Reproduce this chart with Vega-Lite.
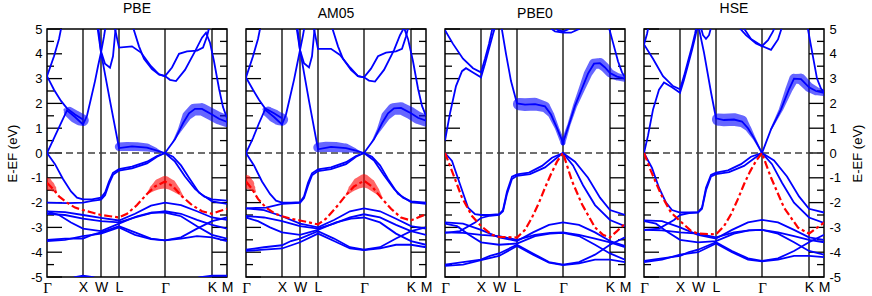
{
"$schema":"https://vega.github.io/schema/vega-lite/v6.json",
"padding":{"left":5,"right":5,"top":1,"bottom":0},
"config":{"font":"Liberation Sans","view":{"stroke":"black","strokeWidth":1.5},"title":{"fontSize":14,"fontWeight":"normal","color":"black","offset":7,"baseline":"alphabetic"}},
"datasets":{
"kp":[{"k":36},{"k":54},{"k":72},{"k":118},{"k":165}],
"zero":[{"e":0}],
"tmaj":[{"e":-5},{"e":-4},{"e":-3},{"e":-2},{"e":-1},{"e":0},{"e":1},{"e":2},{"e":3},{"e":4},{"e":5}],
"tmin":[{"e":-4.5},{"e":-3.5},{"e":-2.5},{"e":-1.5},{"e":-0.5},{"e":0.5},{"e":1.5},{"e":2.5},{"e":3.5},{"e":4.5}],
"fat":[
{"p":"PBE","f":"f1","t":"p","k":18,"e":1.74,"w":0.15},{"p":"PBE","f":"f1","t":"p","k":22,"e":1.65,"w":0.5},{"p":"PBE","f":"f1","t":"p","k":28,"e":1.47,"w":0.6},{"p":"PBE","f":"f1","t":"p","k":33,"e":1.36,"w":0.6},{"p":"PBE","f":"f1","t":"p","k":36,"e":1.32,"w":0.55},
{"p":"PBE","f":"f2","t":"p","k":72,"e":0.25,"w":0.4},{"p":"PBE","f":"f2","t":"p","k":80,"e":0.27,"w":0.42},{"p":"PBE","f":"f2","t":"p","k":90,"e":0.26,"w":0.42},{"p":"PBE","f":"f2","t":"p","k":100,"e":0.22,"w":0.38},{"p":"PBE","f":"f2","t":"p","k":108,"e":0.12,"w":0.25},{"p":"PBE","f":"f2","t":"p","k":114,"e":0.04,"w":0.08},
{"p":"PBE","f":"f3","t":"p","k":126,"e":0.45,"w":0.05},{"p":"PBE","f":"f3","t":"p","k":133,"e":0.95,"w":0.2},{"p":"PBE","f":"f3","t":"p","k":140,"e":1.5,"w":0.45},{"p":"PBE","f":"f3","t":"p","k":147,"e":1.75,"w":0.55},{"p":"PBE","f":"f3","t":"p","k":155,"e":1.76,"w":0.58},{"p":"PBE","f":"f3","t":"p","k":165,"e":1.55,"w":0.58},{"p":"PBE","f":"f3","t":"p","k":172,"e":1.4,"w":0.58},{"p":"PBE","f":"f3","t":"p","k":180,"e":1.28,"w":0.55},
{"p":"PBE","f":"f4","t":"s","k":0,"e":-1.25,"w":0.6},{"p":"PBE","f":"f4","t":"s","k":3,"e":-1.32,"w":0.45},{"p":"PBE","f":"f4","t":"s","k":6,"e":-1.42,"w":0.3},{"p":"PBE","f":"f4","t":"s","k":9,"e":-1.55,"w":0.1},
{"p":"PBE","f":"f5","t":"s","k":100,"e":-1.65,"w":0.05},{"p":"PBE","f":"f5","t":"s","k":106,"e":-1.42,"w":0.3},{"p":"PBE","f":"f5","t":"s","k":112,"e":-1.25,"w":0.5},{"p":"PBE","f":"f5","t":"s","k":118,"e":-1.18,"w":0.6},{"p":"PBE","f":"f5","t":"s","k":124,"e":-1.28,"w":0.5},{"p":"PBE","f":"f5","t":"s","k":130,"e":-1.5,"w":0.3},{"p":"PBE","f":"f5","t":"s","k":136,"e":-1.75,"w":0.05},
{"p":"AM05","f":"f1","t":"p","k":18,"e":1.76,"w":0.15},{"p":"AM05","f":"f1","t":"p","k":22,"e":1.66,"w":0.5},{"p":"AM05","f":"f1","t":"p","k":28,"e":1.5,"w":0.62},{"p":"AM05","f":"f1","t":"p","k":33,"e":1.38,"w":0.62},{"p":"AM05","f":"f1","t":"p","k":36,"e":1.35,"w":0.58},
{"p":"AM05","f":"f2","t":"p","k":72,"e":0.22,"w":0.45},{"p":"AM05","f":"f2","t":"p","k":80,"e":0.25,"w":0.48},{"p":"AM05","f":"f2","t":"p","k":90,"e":0.24,"w":0.48},{"p":"AM05","f":"f2","t":"p","k":100,"e":0.2,"w":0.42},{"p":"AM05","f":"f2","t":"p","k":108,"e":0.11,"w":0.25},{"p":"AM05","f":"f2","t":"p","k":114,"e":0.04,"w":0.08},
{"p":"AM05","f":"f3","t":"p","k":126,"e":0.45,"w":0.05},{"p":"AM05","f":"f3","t":"p","k":133,"e":0.95,"w":0.2},{"p":"AM05","f":"f3","t":"p","k":140,"e":1.5,"w":0.45},{"p":"AM05","f":"f3","t":"p","k":147,"e":1.77,"w":0.55},{"p":"AM05","f":"f3","t":"p","k":155,"e":1.8,"w":0.58},{"p":"AM05","f":"f3","t":"p","k":165,"e":1.6,"w":0.58},{"p":"AM05","f":"f3","t":"p","k":172,"e":1.42,"w":0.58},{"p":"AM05","f":"f3","t":"p","k":180,"e":1.3,"w":0.55},
{"p":"AM05","f":"f4","t":"s","k":0,"e":-1.16,"w":0.65},{"p":"AM05","f":"f4","t":"s","k":3,"e":-1.25,"w":0.5},{"p":"AM05","f":"f4","t":"s","k":6,"e":-1.4,"w":0.3},{"p":"AM05","f":"f4","t":"s","k":9,"e":-1.55,"w":0.1},
{"p":"AM05","f":"f5","t":"s","k":100,"e":-1.7,"w":0.05},{"p":"AM05","f":"f5","t":"s","k":106,"e":-1.42,"w":0.32},{"p":"AM05","f":"f5","t":"s","k":112,"e":-1.22,"w":0.52},{"p":"AM05","f":"f5","t":"s","k":118,"e":-1.12,"w":0.62},{"p":"AM05","f":"f5","t":"s","k":124,"e":-1.25,"w":0.5},{"p":"AM05","f":"f5","t":"s","k":130,"e":-1.5,"w":0.3},{"p":"AM05","f":"f5","t":"s","k":136,"e":-1.8,"w":0.05},
{"p":"PBE0","f":"f2","t":"p","k":72,"e":1.97,"w":0.3},{"p":"PBE0","f":"f2","t":"p","k":74,"e":1.97,"w":0.58},{"p":"PBE0","f":"f2","t":"p","k":80,"e":1.95,"w":0.6},{"p":"PBE0","f":"f2","t":"p","k":90,"e":1.97,"w":0.6},{"p":"PBE0","f":"f2","t":"p","k":100,"e":1.86,"w":0.5},{"p":"PBE0","f":"f2","t":"p","k":106,"e":1.55,"w":0.3},{"p":"PBE0","f":"f2","t":"p","k":112,"e":1.0,"w":0.2},{"p":"PBE0","f":"f2","t":"p","k":118,"e":0.4,"w":0.22},
{"p":"PBE0","f":"f3","t":"p","k":118,"e":0.4,"w":0.22},{"p":"PBE0","f":"f3","t":"p","k":124,"e":1.15,"w":0.15},{"p":"PBE0","f":"f3","t":"p","k":130,"e":1.9,"w":0.2},{"p":"PBE0","f":"f3","t":"p","k":137,"e":2.6,"w":0.3},{"p":"PBE0","f":"f3","t":"p","k":143,"e":3.2,"w":0.4},{"p":"PBE0","f":"f3","t":"p","k":149,"e":3.6,"w":0.48},{"p":"PBE0","f":"f3","t":"p","k":155,"e":3.62,"w":0.5},{"p":"PBE0","f":"f3","t":"p","k":160,"e":3.45,"w":0.45},{"p":"PBE0","f":"f3","t":"p","k":165,"e":3.22,"w":0.4},{"p":"PBE0","f":"f3","t":"p","k":172,"e":3.08,"w":0.35},{"p":"PBE0","f":"f3","t":"p","k":180,"e":3.0,"w":0.3},
{"p":"HSE","f":"f2","t":"p","k":72,"e":1.38,"w":0.3},{"p":"HSE","f":"f2","t":"p","k":74,"e":1.35,"w":0.58},{"p":"HSE","f":"f2","t":"p","k":80,"e":1.33,"w":0.6},{"p":"HSE","f":"f2","t":"p","k":90,"e":1.35,"w":0.6},{"p":"HSE","f":"f2","t":"p","k":98,"e":1.28,"w":0.55},{"p":"HSE","f":"f2","t":"p","k":104,"e":1.0,"w":0.3},{"p":"HSE","f":"f2","t":"p","k":110,"e":0.6,"w":0.15},{"p":"HSE","f":"f2","t":"p","k":118,"e":0.0,"w":0.05},
{"p":"HSE","f":"f3","t":"p","k":127,"e":0.95,"w":0.08},{"p":"HSE","f":"f3","t":"p","k":137,"e":1.76,"w":0.2},{"p":"HSE","f":"f3","t":"p","k":145,"e":2.57,"w":0.35},{"p":"HSE","f":"f3","t":"p","k":150,"e":3.0,"w":0.45},{"p":"HSE","f":"f3","t":"p","k":157,"e":2.98,"w":0.5},{"p":"HSE","f":"f3","t":"p","k":165,"e":2.65,"w":0.45},{"p":"HSE","f":"f3","t":"p","k":172,"e":2.5,"w":0.4},{"p":"HSE","f":"f3","t":"p","k":180,"e":2.42,"w":0.3}
],
"bands":[
{"p":"PBE","b":"c1","k":0,"e":0},{"p":"PBE","b":"c1","k":7,"e":0.6},{"p":"PBE","b":"c1","k":14,"e":1.2},{"p":"PBE","b":"c1","k":20,"e":1.72},{"p":"PBE","b":"c1","k":28,"e":1.45},{"p":"PBE","b":"c1","k":36,"e":1.15},{"p":"PBE","b":"c1","k":40,"e":1.5},{"p":"PBE","b":"c1","k":44,"e":2.2},{"p":"PBE","b":"c1","k":48,"e":2.9},{"p":"PBE","b":"c1","k":51,"e":3.5},{"p":"PBE","b":"c1","k":54,"e":4.05},{"p":"PBE","b":"c1","k":57,"e":4.7},{"p":"PBE","b":"c1","k":59,"e":5.2},
{"p":"PBE","b":"c2","k":0,"e":3.1},{"p":"PBE","b":"c2","k":7,"e":2.55},{"p":"PBE","b":"c2","k":14,"e":2.1},{"p":"PBE","b":"c2","k":20,"e":1.8},{"p":"PBE","b":"c2","k":28,"e":1.55},{"p":"PBE","b":"c2","k":36,"e":1.35},
{"p":"PBE","b":"c3","k":50,"e":5.2},{"p":"PBE","b":"c3","k":54,"e":4.05},{"p":"PBE","b":"c3","k":63,"e":2.1},{"p":"PBE","b":"c3","k":72,"e":0.2},{"p":"PBE","b":"c3","k":85,"e":0.27},{"p":"PBE","b":"c3","k":100,"e":0.22},{"p":"PBE","b":"c3","k":110,"e":0.1},{"p":"PBE","b":"c3","k":118,"e":0},{"p":"PBE","b":"c3","k":128,"e":0.55},{"p":"PBE","b":"c3","k":136,"e":1.2},{"p":"PBE","b":"c3","k":142,"e":1.6},{"p":"PBE","b":"c3","k":148,"e":1.78},{"p":"PBE","b":"c3","k":155,"e":1.78},{"p":"PBE","b":"c3","k":165,"e":1.55},{"p":"PBE","b":"c3","k":172,"e":1.38},{"p":"PBE","b":"c3","k":180,"e":1.25},
{"p":"PBE","b":"c4","k":51,"e":5.2},{"p":"PBE","b":"c4","k":54,"e":4.1},{"p":"PBE","b":"c4","k":58,"e":3.6},{"p":"PBE","b":"c4","k":63,"e":3.44},{"p":"PBE","b":"c4","k":66,"e":3.9},{"p":"PBE","b":"c4","k":69,"e":5.2},
{"p":"PBE","b":"c5","k":67,"e":5.2},{"p":"PBE","b":"c5","k":72,"e":4.25},{"p":"PBE","b":"c5","k":85,"e":4.3},{"p":"PBE","b":"c5","k":94,"e":4.05},{"p":"PBE","b":"c5","k":104,"e":3.5},{"p":"PBE","b":"c5","k":112,"e":3.17},{"p":"PBE","b":"c5","k":118,"e":3.1},{"p":"PBE","b":"c5","k":125,"e":3.45},{"p":"PBE","b":"c5","k":132,"e":4.0},{"p":"PBE","b":"c5","k":140,"e":4.1},{"p":"PBE","b":"c5","k":150,"e":4.13},{"p":"PBE","b":"c5","k":156,"e":4.25},{"p":"PBE","b":"c5","k":160,"e":4.7},{"p":"PBE","b":"c5","k":163,"e":5.2},
{"p":"PBE","b":"c6","k":85,"e":5.2},{"p":"PBE","b":"c6","k":92,"e":4.3},{"p":"PBE","b":"c6","k":97,"e":3.8},{"p":"PBE","b":"c6","k":105,"e":3.38},{"p":"PBE","b":"c6","k":112,"e":3.17},{"p":"PBE","b":"c6","k":118,"e":3.1},{"p":"PBE","b":"c6","k":123,"e":2.95},{"p":"PBE","b":"c6","k":129,"e":2.9},{"p":"PBE","b":"c6","k":138,"e":3.35},{"p":"PBE","b":"c6","k":148,"e":4.1},{"p":"PBE","b":"c6","k":155,"e":4.65},{"p":"PBE","b":"c6","k":159,"e":4.85},{"p":"PBE","b":"c6","k":163,"e":4.45},{"p":"PBE","b":"c6","k":167,"e":3.7},{"p":"PBE","b":"c6","k":172,"e":2.6},{"p":"PBE","b":"c6","k":176,"e":1.85},{"p":"PBE","b":"c6","k":180,"e":1.4},
{"p":"PBE","b":"c7","k":0,"e":3.1},{"p":"PBE","b":"c7","k":7,"e":3.9},{"p":"PBE","b":"c7","k":12,"e":4.6},{"p":"PBE","b":"c7","k":15,"e":5.2},
{"p":"PBE","b":"v1","k":0,"e":0},{"p":"PBE","b":"v1","k":8,"e":-0.45},{"p":"PBE","b":"v1","k":16,"e":-1.05},{"p":"PBE","b":"v1","k":24,"e":-1.55},{"p":"PBE","b":"v1","k":30,"e":-1.8},{"p":"PBE","b":"v1","k":36,"e":-1.87},{"p":"PBE","b":"v1","k":45,"e":-1.87},{"p":"PBE","b":"v1","k":54,"e":-1.8},{"p":"PBE","b":"v1","k":58,"e":-1.6},{"p":"PBE","b":"v1","k":62,"e":-1.15},{"p":"PBE","b":"v1","k":66,"e":-0.8},{"p":"PBE","b":"v1","k":72,"e":-0.65},{"p":"PBE","b":"v1","k":85,"e":-0.55},{"p":"PBE","b":"v1","k":100,"e":-0.35},{"p":"PBE","b":"v1","k":110,"e":-0.12},{"p":"PBE","b":"v1","k":118,"e":0},{"p":"PBE","b":"v1","k":128,"e":-0.35},{"p":"PBE","b":"v1","k":138,"e":-0.95},{"p":"PBE","b":"v1","k":148,"e":-1.45},{"p":"PBE","b":"v1","k":157,"e":-1.75},{"p":"PBE","b":"v1","k":165,"e":-1.87},{"p":"PBE","b":"v1","k":180,"e":-1.92},
{"p":"PBE","b":"vA","k":0,"e":-2.0},{"p":"PBE","b":"vA","k":20,"e":-2.02},{"p":"PBE","b":"vA","k":36,"e":-2.0},{"p":"PBE","b":"vA","k":45,"e":-1.93},{"p":"PBE","b":"vA","k":54,"e":-1.88},{"p":"PBE","b":"vA","k":58,"e":-1.7},{"p":"PBE","b":"vA","k":62,"e":-1.25},{"p":"PBE","b":"vA","k":66,"e":-0.88},{"p":"PBE","b":"vA","k":72,"e":-0.71},{"p":"PBE","b":"vA","k":85,"e":-0.62},{"p":"PBE","b":"vA","k":100,"e":-0.42},{"p":"PBE","b":"vA","k":110,"e":-0.15},{"p":"PBE","b":"vA","k":118,"e":0},{"p":"PBE","b":"vA","k":126,"e":-0.15},{"p":"PBE","b":"vA","k":134,"e":-0.5},{"p":"PBE","b":"vA","k":142,"e":-1.0},{"p":"PBE","b":"vA","k":152,"e":-1.6},{"p":"PBE","b":"vA","k":165,"e":-1.95},{"p":"PBE","b":"vA","k":180,"e":-2.05},
{"p":"PBE","b":"B1","k":0,"e":-2.35},{"p":"PBE","b":"B1","k":18,"e":-2.38},{"p":"PBE","b":"B1","k":36,"e":-2.5},{"p":"PBE","b":"B1","k":54,"e":-2.62},{"p":"PBE","b":"B1","k":72,"e":-2.72},{"p":"PBE","b":"B1","k":88,"e":-2.45},{"p":"PBE","b":"B1","k":104,"e":-2.12},{"p":"PBE","b":"B1","k":118,"e":-2.0},{"p":"PBE","b":"B1","k":134,"e":-2.1},{"p":"PBE","b":"B1","k":150,"e":-2.35},{"p":"PBE","b":"B1","k":165,"e":-2.6},{"p":"PBE","b":"B1","k":180,"e":-2.7},
{"p":"PBE","b":"B2","k":0,"e":-2.45},{"p":"PBE","b":"B2","k":18,"e":-2.5},{"p":"PBE","b":"B2","k":36,"e":-2.65},{"p":"PBE","b":"B2","k":54,"e":-2.75},{"p":"PBE","b":"B2","k":72,"e":-2.8},{"p":"PBE","b":"B2","k":88,"e":-2.6},{"p":"PBE","b":"B2","k":104,"e":-2.42},{"p":"PBE","b":"B2","k":118,"e":-2.35},{"p":"PBE","b":"B2","k":134,"e":-2.45},{"p":"PBE","b":"B2","k":150,"e":-2.7},{"p":"PBE","b":"B2","k":165,"e":-2.9},{"p":"PBE","b":"B2","k":180,"e":-3.05},
{"p":"PBE","b":"B3","k":0,"e":-2.35},{"p":"PBE","b":"B3","k":12,"e":-2.5},{"p":"PBE","b":"B3","k":24,"e":-2.8},{"p":"PBE","b":"B3","k":36,"e":-3.05},{"p":"PBE","b":"B3","k":54,"e":-3.15},{"p":"PBE","b":"B3","k":72,"e":-2.85},{"p":"PBE","b":"B3","k":90,"e":-2.55},{"p":"PBE","b":"B3","k":105,"e":-2.4},{"p":"PBE","b":"B3","k":118,"e":-2.4},{"p":"PBE","b":"B3","k":134,"e":-2.55},{"p":"PBE","b":"B3","k":150,"e":-2.95},{"p":"PBE","b":"B3","k":165,"e":-3.3},{"p":"PBE","b":"B3","k":180,"e":-3.45},
{"p":"PBE","b":"B4","k":0,"e":-3.5},{"p":"PBE","b":"B4","k":18,"e":-3.45},{"p":"PBE","b":"B4","k":36,"e":-3.45},{"p":"PBE","b":"B4","k":45,"e":-3.3},{"p":"PBE","b":"B4","k":54,"e":-3.2},{"p":"PBE","b":"B4","k":72,"e":-2.95},{"p":"PBE","b":"B4","k":88,"e":-3.2},{"p":"PBE","b":"B4","k":104,"e":-3.45},{"p":"PBE","b":"B4","k":118,"e":-3.52},{"p":"PBE","b":"B4","k":134,"e":-3.4},{"p":"PBE","b":"B4","k":150,"e":-3.05},{"p":"PBE","b":"B4","k":165,"e":-2.75},{"p":"PBE","b":"B4","k":180,"e":-2.6},
{"p":"PBE","b":"B5","k":0,"e":-3.55},{"p":"PBE","b":"B5","k":18,"e":-3.5},{"p":"PBE","b":"B5","k":36,"e":-3.35},{"p":"PBE","b":"B5","k":54,"e":-3.25},{"p":"PBE","b":"B5","k":72,"e":-3.0},{"p":"PBE","b":"B5","k":88,"e":-3.3},{"p":"PBE","b":"B5","k":104,"e":-3.47},{"p":"PBE","b":"B5","k":118,"e":-3.52},{"p":"PBE","b":"B5","k":134,"e":-3.45},{"p":"PBE","b":"B5","k":150,"e":-3.35},{"p":"PBE","b":"B5","k":165,"e":-3.4},{"p":"PBE","b":"B5","k":180,"e":-3.55},
{"p":"PBE","b":"B6","k":18,"e":-5.2},{"p":"PBE","b":"B6","k":28,"e":-5.0},{"p":"PBE","b":"B6","k":36,"e":-4.95},{"p":"PBE","b":"B6","k":46,"e":-5.0},{"p":"PBE","b":"B6","k":56,"e":-5.2},
{"p":"PBE","b":"B7","k":140,"e":-5.2},{"p":"PBE","b":"B7","k":152,"e":-5.02},{"p":"PBE","b":"B7","k":165,"e":-4.95},{"p":"PBE","b":"B7","k":180,"e":-4.95},
{"p":"PBE","b":"red","k":0,"e":-1.2},{"p":"PBE","b":"red","k":6,"e":-1.45},{"p":"PBE","b":"red","k":12,"e":-1.75},{"p":"PBE","b":"red","k":20,"e":-2.0},{"p":"PBE","b":"red","k":28,"e":-2.2},{"p":"PBE","b":"red","k":36,"e":-2.3},{"p":"PBE","b":"red","k":45,"e":-2.4},{"p":"PBE","b":"red","k":54,"e":-2.5},{"p":"PBE","b":"red","k":63,"e":-2.55},{"p":"PBE","b":"red","k":72,"e":-2.6},{"p":"PBE","b":"red","k":80,"e":-2.45},{"p":"PBE","b":"red","k":90,"e":-2.1},{"p":"PBE","b":"red","k":100,"e":-1.65},{"p":"PBE","b":"red","k":108,"e":-1.35},{"p":"PBE","b":"red","k":118,"e":-1.15},{"p":"PBE","b":"red","k":126,"e":-1.35},{"p":"PBE","b":"red","k":135,"e":-1.75},{"p":"PBE","b":"red","k":145,"e":-2.1},{"p":"PBE","b":"red","k":155,"e":-2.35},{"p":"PBE","b":"red","k":165,"e":-2.45},{"p":"PBE","b":"red","k":172,"e":-2.35},{"p":"PBE","b":"red","k":180,"e":-2.25},

{"p":"AM05","b":"c1","k":0,"e":0},{"p":"AM05","b":"c1","k":7,"e":0.6},{"p":"AM05","b":"c1","k":13,"e":1.2},{"p":"AM05","b":"c1","k":19,"e":1.75},{"p":"AM05","b":"c1","k":28,"e":1.45},{"p":"AM05","b":"c1","k":36,"e":1.15},{"p":"AM05","b":"c1","k":40,"e":1.55},{"p":"AM05","b":"c1","k":44,"e":2.25},{"p":"AM05","b":"c1","k":48,"e":2.95},{"p":"AM05","b":"c1","k":51,"e":3.55},{"p":"AM05","b":"c1","k":54,"e":4.15},{"p":"AM05","b":"c1","k":57,"e":4.75},{"p":"AM05","b":"c1","k":59,"e":5.2},
{"p":"AM05","b":"c2","k":0,"e":3.05},{"p":"AM05","b":"c2","k":7,"e":2.55},{"p":"AM05","b":"c2","k":13,"e":2.15},{"p":"AM05","b":"c2","k":19,"e":1.8},{"p":"AM05","b":"c2","k":28,"e":1.6},{"p":"AM05","b":"c2","k":36,"e":1.4},
{"p":"AM05","b":"c3","k":50,"e":5.2},{"p":"AM05","b":"c3","k":54,"e":4.15},{"p":"AM05","b":"c3","k":63,"e":2.1},{"p":"AM05","b":"c3","k":72,"e":0.15},{"p":"AM05","b":"c3","k":85,"e":0.25},{"p":"AM05","b":"c3","k":100,"e":0.2},{"p":"AM05","b":"c3","k":110,"e":0.1},{"p":"AM05","b":"c3","k":118,"e":0},{"p":"AM05","b":"c3","k":128,"e":0.55},{"p":"AM05","b":"c3","k":136,"e":1.2},{"p":"AM05","b":"c3","k":142,"e":1.6},{"p":"AM05","b":"c3","k":148,"e":1.8},{"p":"AM05","b":"c3","k":155,"e":1.82},{"p":"AM05","b":"c3","k":165,"e":1.6},{"p":"AM05","b":"c3","k":172,"e":1.42},{"p":"AM05","b":"c3","k":180,"e":1.3},
{"p":"AM05","b":"c4","k":51,"e":5.2},{"p":"AM05","b":"c4","k":54,"e":4.15},{"p":"AM05","b":"c4","k":58,"e":3.62},{"p":"AM05","b":"c4","k":63,"e":3.45},{"p":"AM05","b":"c4","k":66,"e":3.9},{"p":"AM05","b":"c4","k":69,"e":5.2},
{"p":"AM05","b":"c5","k":67,"e":5.2},{"p":"AM05","b":"c5","k":72,"e":4.2},{"p":"AM05","b":"c5","k":85,"e":4.2},{"p":"AM05","b":"c5","k":94,"e":3.95},{"p":"AM05","b":"c5","k":104,"e":3.45},{"p":"AM05","b":"c5","k":112,"e":3.1},{"p":"AM05","b":"c5","k":118,"e":3.05},{"p":"AM05","b":"c5","k":125,"e":3.4},{"p":"AM05","b":"c5","k":132,"e":3.9},{"p":"AM05","b":"c5","k":140,"e":4.05},{"p":"AM05","b":"c5","k":150,"e":4.1},{"p":"AM05","b":"c5","k":156,"e":4.2},{"p":"AM05","b":"c5","k":160,"e":4.7},{"p":"AM05","b":"c5","k":163,"e":5.2},
{"p":"AM05","b":"c6","k":85,"e":5.2},{"p":"AM05","b":"c6","k":92,"e":4.3},{"p":"AM05","b":"c6","k":97,"e":3.8},{"p":"AM05","b":"c6","k":105,"e":3.35},{"p":"AM05","b":"c6","k":112,"e":3.1},{"p":"AM05","b":"c6","k":118,"e":3.05},{"p":"AM05","b":"c6","k":123,"e":2.92},{"p":"AM05","b":"c6","k":129,"e":2.88},{"p":"AM05","b":"c6","k":138,"e":3.35},{"p":"AM05","b":"c6","k":148,"e":4.15},{"p":"AM05","b":"c6","k":154,"e":4.75},{"p":"AM05","b":"c6","k":158,"e":5.05},{"p":"AM05","b":"c6","k":162,"e":4.6},{"p":"AM05","b":"c6","k":167,"e":3.7},{"p":"AM05","b":"c6","k":172,"e":2.6},{"p":"AM05","b":"c6","k":176,"e":1.9},{"p":"AM05","b":"c6","k":180,"e":1.5},
{"p":"AM05","b":"c7","k":0,"e":3.05},{"p":"AM05","b":"c7","k":7,"e":3.9},{"p":"AM05","b":"c7","k":12,"e":4.6},{"p":"AM05","b":"c7","k":15,"e":5.2},
{"p":"AM05","b":"v1","k":0,"e":0},{"p":"AM05","b":"v1","k":8,"e":-0.5},{"p":"AM05","b":"v1","k":16,"e":-1.15},{"p":"AM05","b":"v1","k":24,"e":-1.65},{"p":"AM05","b":"v1","k":30,"e":-1.92},{"p":"AM05","b":"v1","k":36,"e":-2.0},{"p":"AM05","b":"v1","k":45,"e":-2.0},{"p":"AM05","b":"v1","k":54,"e":-1.98},{"p":"AM05","b":"v1","k":58,"e":-1.75},{"p":"AM05","b":"v1","k":62,"e":-1.2},{"p":"AM05","b":"v1","k":66,"e":-0.82},{"p":"AM05","b":"v1","k":72,"e":-0.66},{"p":"AM05","b":"v1","k":85,"e":-0.58},{"p":"AM05","b":"v1","k":100,"e":-0.37},{"p":"AM05","b":"v1","k":110,"e":-0.12},{"p":"AM05","b":"v1","k":118,"e":0},{"p":"AM05","b":"v1","k":128,"e":-0.3},{"p":"AM05","b":"v1","k":138,"e":-0.9},{"p":"AM05","b":"v1","k":148,"e":-1.45},{"p":"AM05","b":"v1","k":157,"e":-1.8},{"p":"AM05","b":"v1","k":165,"e":-1.95},{"p":"AM05","b":"v1","k":180,"e":-2.0},
{"p":"AM05","b":"vA","k":0,"e":-2.23},{"p":"AM05","b":"vA","k":20,"e":-2.2},{"p":"AM05","b":"vA","k":36,"e":-2.05},{"p":"AM05","b":"vA","k":45,"e":-2.03},{"p":"AM05","b":"vA","k":54,"e":-2.01},{"p":"AM05","b":"vA","k":58,"e":-1.82},{"p":"AM05","b":"vA","k":62,"e":-1.32},{"p":"AM05","b":"vA","k":66,"e":-0.9},{"p":"AM05","b":"vA","k":72,"e":-0.73},{"p":"AM05","b":"vA","k":85,"e":-0.65},{"p":"AM05","b":"vA","k":100,"e":-0.45},{"p":"AM05","b":"vA","k":110,"e":-0.15},{"p":"AM05","b":"vA","k":118,"e":0},{"p":"AM05","b":"vA","k":126,"e":-0.15},{"p":"AM05","b":"vA","k":134,"e":-0.5},{"p":"AM05","b":"vA","k":142,"e":-1.05},{"p":"AM05","b":"vA","k":152,"e":-1.65},{"p":"AM05","b":"vA","k":165,"e":-1.98},{"p":"AM05","b":"vA","k":180,"e":-2.05},
{"p":"AM05","b":"B1","k":0,"e":-2.23},{"p":"AM05","b":"B1","k":18,"e":-2.3},{"p":"AM05","b":"B1","k":36,"e":-2.55},{"p":"AM05","b":"B1","k":54,"e":-2.85},{"p":"AM05","b":"B1","k":72,"e":-3.0},{"p":"AM05","b":"B1","k":88,"e":-2.7},{"p":"AM05","b":"B1","k":104,"e":-2.35},{"p":"AM05","b":"B1","k":118,"e":-2.23},{"p":"AM05","b":"B1","k":134,"e":-2.35},{"p":"AM05","b":"B1","k":150,"e":-2.65},{"p":"AM05","b":"B1","k":165,"e":-2.95},{"p":"AM05","b":"B1","k":180,"e":-3.05},
{"p":"AM05","b":"B2","k":0,"e":-2.54},{"p":"AM05","b":"B2","k":18,"e":-2.6},{"p":"AM05","b":"B2","k":36,"e":-2.75},{"p":"AM05","b":"B2","k":54,"e":-2.95},{"p":"AM05","b":"B2","k":72,"e":-3.05},{"p":"AM05","b":"B2","k":88,"e":-2.85},{"p":"AM05","b":"B2","k":104,"e":-2.6},{"p":"AM05","b":"B2","k":118,"e":-2.47},{"p":"AM05","b":"B2","k":134,"e":-2.6},{"p":"AM05","b":"B2","k":150,"e":-2.9},{"p":"AM05","b":"B2","k":165,"e":-3.15},{"p":"AM05","b":"B2","k":180,"e":-3.3},
{"p":"AM05","b":"B3","k":0,"e":-2.6},{"p":"AM05","b":"B3","k":12,"e":-2.75},{"p":"AM05","b":"B3","k":24,"e":-3.0},{"p":"AM05","b":"B3","k":36,"e":-3.2},{"p":"AM05","b":"B3","k":54,"e":-3.3},{"p":"AM05","b":"B3","k":72,"e":-3.1},{"p":"AM05","b":"B3","k":90,"e":-2.8},{"p":"AM05","b":"B3","k":105,"e":-2.65},{"p":"AM05","b":"B3","k":118,"e":-2.6},{"p":"AM05","b":"B3","k":134,"e":-2.8},{"p":"AM05","b":"B3","k":150,"e":-3.25},{"p":"AM05","b":"B3","k":165,"e":-3.55},{"p":"AM05","b":"B3","k":180,"e":-3.7},
{"p":"AM05","b":"B4","k":0,"e":-3.9},{"p":"AM05","b":"B4","k":18,"e":-3.8},{"p":"AM05","b":"B4","k":36,"e":-3.72},{"p":"AM05","b":"B4","k":45,"e":-3.55},{"p":"AM05","b":"B4","k":54,"e":-3.45},{"p":"AM05","b":"B4","k":72,"e":-3.15},{"p":"AM05","b":"B4","k":88,"e":-3.45},{"p":"AM05","b":"B4","k":104,"e":-3.8},{"p":"AM05","b":"B4","k":118,"e":-3.9},{"p":"AM05","b":"B4","k":134,"e":-3.8},{"p":"AM05","b":"B4","k":150,"e":-3.45},{"p":"AM05","b":"B4","k":165,"e":-3.15},{"p":"AM05","b":"B4","k":180,"e":-3.0},
{"p":"AM05","b":"B5","k":0,"e":-3.95},{"p":"AM05","b":"B5","k":18,"e":-3.9},{"p":"AM05","b":"B5","k":36,"e":-3.85},{"p":"AM05","b":"B5","k":54,"e":-3.6},{"p":"AM05","b":"B5","k":72,"e":-3.25},{"p":"AM05","b":"B5","k":88,"e":-3.55},{"p":"AM05","b":"B5","k":104,"e":-3.85},{"p":"AM05","b":"B5","k":118,"e":-3.92},{"p":"AM05","b":"B5","k":134,"e":-3.85},{"p":"AM05","b":"B5","k":150,"e":-3.7},{"p":"AM05","b":"B5","k":165,"e":-3.7},{"p":"AM05","b":"B5","k":180,"e":-3.8},
{"p":"AM05","b":"red","k":0,"e":-1.15},{"p":"AM05","b":"red","k":6,"e":-1.45},{"p":"AM05","b":"red","k":12,"e":-1.85},{"p":"AM05","b":"red","k":20,"e":-2.2},{"p":"AM05","b":"red","k":28,"e":-2.42},{"p":"AM05","b":"red","k":36,"e":-2.55},{"p":"AM05","b":"red","k":45,"e":-2.65},{"p":"AM05","b":"red","k":54,"e":-2.72},{"p":"AM05","b":"red","k":63,"e":-2.8},{"p":"AM05","b":"red","k":72,"e":-2.88},{"p":"AM05","b":"red","k":80,"e":-2.65},{"p":"AM05","b":"red","k":90,"e":-2.2},{"p":"AM05","b":"red","k":100,"e":-1.7},{"p":"AM05","b":"red","k":108,"e":-1.35},{"p":"AM05","b":"red","k":118,"e":-1.12},{"p":"AM05","b":"red","k":126,"e":-1.35},{"p":"AM05","b":"red","k":135,"e":-1.8},{"p":"AM05","b":"red","k":145,"e":-2.25},{"p":"AM05","b":"red","k":155,"e":-2.6},{"p":"AM05","b":"red","k":165,"e":-2.72},{"p":"AM05","b":"red","k":172,"e":-2.6},{"p":"AM05","b":"red","k":180,"e":-2.47},

{"p":"PBE0","b":"c1","k":0,"e":0.5},{"p":"PBE0","b":"c1","k":5,"e":1.6},{"p":"PBE0","b":"c1","k":11,"e":2.7},{"p":"PBE0","b":"c1","k":17,"e":3.3},{"p":"PBE0","b":"c1","k":21,"e":3.42},{"p":"PBE0","b":"c1","k":28,"e":3.25},{"p":"PBE0","b":"c1","k":36,"e":3.05},{"p":"PBE0","b":"c1","k":40,"e":3.6},{"p":"PBE0","b":"c1","k":44,"e":4.2},{"p":"PBE0","b":"c1","k":48,"e":4.8},{"p":"PBE0","b":"c1","k":51,"e":5.2},
{"p":"PBE0","b":"c2","k":0,"e":4.95},{"p":"PBE0","b":"c2","k":8,"e":4.4},{"p":"PBE0","b":"c2","k":18,"e":3.8},{"p":"PBE0","b":"c2","k":28,"e":3.42},{"p":"PBE0","b":"c2","k":36,"e":3.25},{"p":"PBE0","b":"c2","k":40,"e":3.8},{"p":"PBE0","b":"c2","k":44,"e":4.4},{"p":"PBE0","b":"c2","k":47,"e":4.95},{"p":"PBE0","b":"c2","k":49,"e":5.2},
{"p":"PBE0","b":"c3","k":56,"e":5.2},{"p":"PBE0","b":"c3","k":61,"e":4.0},{"p":"PBE0","b":"c3","k":66,"e":2.9},{"p":"PBE0","b":"c3","k":72,"e":2.0},{"p":"PBE0","b":"c3","k":80,"e":1.95},{"p":"PBE0","b":"c3","k":90,"e":1.97},{"p":"PBE0","b":"c3","k":100,"e":1.88},{"p":"PBE0","b":"c3","k":106,"e":1.55},{"p":"PBE0","b":"c3","k":112,"e":1.0},{"p":"PBE0","b":"c3","k":118,"e":0.42},{"p":"PBE0","b":"c3","k":124,"e":1.15},{"p":"PBE0","b":"c3","k":130,"e":1.9},{"p":"PBE0","b":"c3","k":137,"e":2.6},{"p":"PBE0","b":"c3","k":143,"e":3.2},{"p":"PBE0","b":"c3","k":149,"e":3.6},{"p":"PBE0","b":"c3","k":155,"e":3.62},{"p":"PBE0","b":"c3","k":160,"e":3.45},{"p":"PBE0","b":"c3","k":165,"e":3.22},{"p":"PBE0","b":"c3","k":172,"e":3.08},{"p":"PBE0","b":"c3","k":180,"e":3.0},
{"p":"PBE0","b":"c4","k":100,"e":5.2},{"p":"PBE0","b":"c4","k":110,"e":4.9},{"p":"PBE0","b":"c4","k":118,"e":4.85},{"p":"PBE0","b":"c4","k":126,"e":4.85},{"p":"PBE0","b":"c4","k":134,"e":5.0},{"p":"PBE0","b":"c4","k":138,"e":5.2},
{"p":"PBE0","b":"c5","k":106,"e":5.2},{"p":"PBE0","b":"c5","k":113,"e":4.95},{"p":"PBE0","b":"c5","k":118,"e":4.9},{"p":"PBE0","b":"c5","k":123,"e":4.98},{"p":"PBE0","b":"c5","k":128,"e":5.2},
{"p":"PBE0","b":"c6","k":163,"e":5.2},{"p":"PBE0","b":"c6","k":168,"e":4.45},{"p":"PBE0","b":"c6","k":173,"e":3.7},{"p":"PBE0","b":"c6","k":177,"e":3.25},{"p":"PBE0","b":"c6","k":180,"e":3.05},
{"p":"PBE0","b":"v1","k":0,"e":0},{"p":"PBE0","b":"v1","k":7,"e":-0.32},{"p":"PBE0","b":"v1","k":15,"e":-1.26},{"p":"PBE0","b":"v1","k":23,"e":-2.2},{"p":"PBE0","b":"v1","k":30,"e":-2.47},{"p":"PBE0","b":"v1","k":36,"e":-2.5},{"p":"PBE0","b":"v1","k":45,"e":-2.5},{"p":"PBE0","b":"v1","k":54,"e":-2.47},{"p":"PBE0","b":"v1","k":58,"e":-2.3},{"p":"PBE0","b":"v1","k":62,"e":-1.55},{"p":"PBE0","b":"v1","k":67,"e":-0.95},{"p":"PBE0","b":"v1","k":72,"e":-0.86},{"p":"PBE0","b":"v1","k":84,"e":-0.79},{"p":"PBE0","b":"v1","k":97,"e":-0.52},{"p":"PBE0","b":"v1","k":107,"e":-0.19},{"p":"PBE0","b":"v1","k":118,"e":0},{"p":"PBE0","b":"v1","k":130,"e":-0.35},{"p":"PBE0","b":"v1","k":143,"e":-1.0},{"p":"PBE0","b":"v1","k":155,"e":-1.8},{"p":"PBE0","b":"v1","k":165,"e":-2.3},{"p":"PBE0","b":"v1","k":180,"e":-2.5},
{"p":"PBE0","b":"vA","k":0,"e":-3.22},{"p":"PBE0","b":"vA","k":15,"e":-3.15},{"p":"PBE0","b":"vA","k":30,"e":-2.8},{"p":"PBE0","b":"vA","k":36,"e":-2.62},{"p":"PBE0","b":"vA","k":45,"e":-2.53},{"p":"PBE0","b":"vA","k":54,"e":-2.5},{"p":"PBE0","b":"vA","k":58,"e":-2.35},{"p":"PBE0","b":"vA","k":62,"e":-1.65},{"p":"PBE0","b":"vA","k":67,"e":-1.05},{"p":"PBE0","b":"vA","k":72,"e":-0.92},{"p":"PBE0","b":"vA","k":85,"e":-0.85},{"p":"PBE0","b":"vA","k":100,"e":-0.58},{"p":"PBE0","b":"vA","k":110,"e":-0.25},{"p":"PBE0","b":"vA","k":118,"e":0},{"p":"PBE0","b":"vA","k":128,"e":-0.5},{"p":"PBE0","b":"vA","k":138,"e":-1.3},{"p":"PBE0","b":"vA","k":150,"e":-2.1},{"p":"PBE0","b":"vA","k":165,"e":-2.7},{"p":"PBE0","b":"vA","k":180,"e":-2.95},
{"p":"PBE0","b":"B1","k":0,"e":-2.8},{"p":"PBE0","b":"B1","k":18,"e":-2.85},{"p":"PBE0","b":"B1","k":36,"e":-3.1},{"p":"PBE0","b":"B1","k":54,"e":-3.4},{"p":"PBE0","b":"B1","k":72,"e":-3.55},{"p":"PBE0","b":"B1","k":88,"e":-3.2},{"p":"PBE0","b":"B1","k":104,"e":-2.9},{"p":"PBE0","b":"B1","k":118,"e":-2.8},{"p":"PBE0","b":"B1","k":134,"e":-2.9},{"p":"PBE0","b":"B1","k":150,"e":-3.2},{"p":"PBE0","b":"B1","k":165,"e":-3.55},{"p":"PBE0","b":"B1","k":180,"e":-3.75},
{"p":"PBE0","b":"B2","k":0,"e":-2.85},{"p":"PBE0","b":"B2","k":12,"e":-2.95},{"p":"PBE0","b":"B2","k":24,"e":-3.3},{"p":"PBE0","b":"B2","k":36,"e":-3.6},{"p":"PBE0","b":"B2","k":54,"e":-3.7},{"p":"PBE0","b":"B2","k":72,"e":-3.65},{"p":"PBE0","b":"B2","k":90,"e":-3.35},{"p":"PBE0","b":"B2","k":105,"e":-3.25},{"p":"PBE0","b":"B2","k":118,"e":-3.22},{"p":"PBE0","b":"B2","k":134,"e":-3.35},{"p":"PBE0","b":"B2","k":150,"e":-3.7},{"p":"PBE0","b":"B2","k":165,"e":-4.05},{"p":"PBE0","b":"B2","k":180,"e":-4.3},
{"p":"PBE0","b":"B3","k":0,"e":-3.2},{"p":"PBE0","b":"B3","k":18,"e":-3.22},{"p":"PBE0","b":"B3","k":36,"e":-3.3},{"p":"PBE0","b":"B3","k":54,"e":-3.35},{"p":"PBE0","b":"B3","k":72,"e":-3.5},{"p":"PBE0","b":"B3","k":90,"e":-3.3},{"p":"PBE0","b":"B3","k":105,"e":-3.22},{"p":"PBE0","b":"B3","k":118,"e":-3.2},{"p":"PBE0","b":"B3","k":134,"e":-3.3},{"p":"PBE0","b":"B3","k":150,"e":-3.45},{"p":"PBE0","b":"B3","k":165,"e":-3.6},{"p":"PBE0","b":"B3","k":180,"e":-3.8},
{"p":"PBE0","b":"B4","k":0,"e":-4.5},{"p":"PBE0","b":"B4","k":18,"e":-4.4},{"p":"PBE0","b":"B4","k":36,"e":-4.3},{"p":"PBE0","b":"B4","k":45,"e":-4.15},{"p":"PBE0","b":"B4","k":54,"e":-4.05},{"p":"PBE0","b":"B4","k":72,"e":-3.7},{"p":"PBE0","b":"B4","k":88,"e":-4.05},{"p":"PBE0","b":"B4","k":104,"e":-4.4},{"p":"PBE0","b":"B4","k":118,"e":-4.5},{"p":"PBE0","b":"B4","k":134,"e":-4.4},{"p":"PBE0","b":"B4","k":150,"e":-4.1},{"p":"PBE0","b":"B4","k":165,"e":-3.7},{"p":"PBE0","b":"B4","k":180,"e":-3.4},
{"p":"PBE0","b":"B5","k":0,"e":-4.55},{"p":"PBE0","b":"B5","k":18,"e":-4.5},{"p":"PBE0","b":"B5","k":36,"e":-4.32},{"p":"PBE0","b":"B5","k":54,"e":-4.15},{"p":"PBE0","b":"B5","k":72,"e":-3.75},{"p":"PBE0","b":"B5","k":88,"e":-4.1},{"p":"PBE0","b":"B5","k":104,"e":-4.42},{"p":"PBE0","b":"B5","k":118,"e":-4.52},{"p":"PBE0","b":"B5","k":134,"e":-4.45},{"p":"PBE0","b":"B5","k":150,"e":-4.3},{"p":"PBE0","b":"B5","k":165,"e":-4.3},{"p":"PBE0","b":"B5","k":180,"e":-4.4},
{"p":"PBE0","b":"red","k":0,"e":0},{"p":"PBE0","b":"red","k":7,"e":-0.73},{"p":"PBE0","b":"red","k":17,"e":-1.8},{"p":"PBE0","b":"red","k":27,"e":-2.54},{"p":"PBE0","b":"red","k":36,"e":-2.94},{"p":"PBE0","b":"red","k":47,"e":-3.3},{"p":"PBE0","b":"red","k":54,"e":-3.38},{"p":"PBE0","b":"red","k":72,"e":-3.41},{"p":"PBE0","b":"red","k":80,"e":-3.1},{"p":"PBE0","b":"red","k":87,"e":-2.6},{"p":"PBE0","b":"red","k":94,"e":-2.0},{"p":"PBE0","b":"red","k":100,"e":-1.4},{"p":"PBE0","b":"red","k":106,"e":-0.85},{"p":"PBE0","b":"red","k":112,"e":-0.35},{"p":"PBE0","b":"red","k":118,"e":0},{"p":"PBE0","b":"red","k":122,"e":-0.5},{"p":"PBE0","b":"red","k":127,"e":-1.13},{"p":"PBE0","b":"red","k":137,"e":-2.07},{"p":"PBE0","b":"red","k":150,"e":-3.0},{"p":"PBE0","b":"red","k":158,"e":-3.3},{"p":"PBE0","b":"red","k":165,"e":-3.4},{"p":"PBE0","b":"red","k":172,"e":-3.15},{"p":"PBE0","b":"red","k":180,"e":-2.85},

{"p":"HSE","b":"c1","k":0,"e":0},{"p":"HSE","b":"c1","k":4,"e":0.7},{"p":"HSE","b":"c1","k":9,"e":1.75},{"p":"HSE","b":"c1","k":15,"e":2.55},{"p":"HSE","b":"c1","k":20,"e":2.84},{"p":"HSE","b":"c1","k":28,"e":2.65},{"p":"HSE","b":"c1","k":36,"e":2.43},{"p":"HSE","b":"c1","k":40,"e":2.95},{"p":"HSE","b":"c1","k":44,"e":3.55},{"p":"HSE","b":"c1","k":48,"e":4.15},{"p":"HSE","b":"c1","k":51,"e":4.65},{"p":"HSE","b":"c1","k":54,"e":5.2},
{"p":"HSE","b":"c2","k":0,"e":4.38},{"p":"HSE","b":"c2","k":9,"e":3.8},{"p":"HSE","b":"c2","k":19,"e":3.1},{"p":"HSE","b":"c2","k":29,"e":2.7},{"p":"HSE","b":"c2","k":36,"e":2.57},{"p":"HSE","b":"c2","k":40,"e":3.1},{"p":"HSE","b":"c2","k":44,"e":3.7},{"p":"HSE","b":"c2","k":48,"e":4.3},{"p":"HSE","b":"c2","k":51,"e":4.8},{"p":"HSE","b":"c2","k":53,"e":5.2},
{"p":"HSE","b":"c3","k":54,"e":5.2},{"p":"HSE","b":"c3","k":60,"e":4.05},{"p":"HSE","b":"c3","k":67,"e":2.45},{"p":"HSE","b":"c3","k":72,"e":1.4},{"p":"HSE","b":"c3","k":80,"e":1.33},{"p":"HSE","b":"c3","k":90,"e":1.35},{"p":"HSE","b":"c3","k":98,"e":1.27},{"p":"HSE","b":"c3","k":104,"e":1.0},{"p":"HSE","b":"c3","k":110,"e":0.6},{"p":"HSE","b":"c3","k":118,"e":0},{"p":"HSE","b":"c3","k":127,"e":0.95},{"p":"HSE","b":"c3","k":137,"e":1.76},{"p":"HSE","b":"c3","k":145,"e":2.57},{"p":"HSE","b":"c3","k":150,"e":3.0},{"p":"HSE","b":"c3","k":157,"e":2.98},{"p":"HSE","b":"c3","k":165,"e":2.65},{"p":"HSE","b":"c3","k":172,"e":2.5},{"p":"HSE","b":"c3","k":180,"e":2.42},
{"p":"HSE","b":"c4","k":56,"e":5.2},{"p":"HSE","b":"c4","k":59,"e":4.75},{"p":"HSE","b":"c4","k":62,"e":4.6},{"p":"HSE","b":"c4","k":65,"e":4.75},{"p":"HSE","b":"c4","k":68,"e":5.2},
{"p":"HSE","b":"c5","k":97,"e":5.2},{"p":"HSE","b":"c5","k":107,"e":4.6},{"p":"HSE","b":"c5","k":118,"e":4.31},{"p":"HSE","b":"c5","k":127,"e":4.16},{"p":"HSE","b":"c5","k":134,"e":4.58},{"p":"HSE","b":"c5","k":139,"e":5.2},
{"p":"HSE","b":"c6","k":92,"e":5.2},{"p":"HSE","b":"c6","k":102,"e":4.75},{"p":"HSE","b":"c6","k":112,"e":4.42},{"p":"HSE","b":"c6","k":118,"e":4.31},{"p":"HSE","b":"c6","k":124,"e":4.55},{"p":"HSE","b":"c6","k":129,"e":4.9},{"p":"HSE","b":"c6","k":132,"e":5.2},
{"p":"HSE","b":"c7","k":0,"e":4.38},{"p":"HSE","b":"c7","k":3,"e":4.8},{"p":"HSE","b":"c7","k":5,"e":5.2},
{"p":"HSE","b":"c8","k":163,"e":5.2},{"p":"HSE","b":"c8","k":168,"e":4.1},{"p":"HSE","b":"c8","k":173,"e":3.0},{"p":"HSE","b":"c8","k":177,"e":2.6},{"p":"HSE","b":"c8","k":180,"e":2.45},
{"p":"HSE","b":"v1","k":0,"e":0},{"p":"HSE","b":"v1","k":8,"e":-0.6},{"p":"HSE","b":"v1","k":15,"e":-1.4},{"p":"HSE","b":"v1","k":22,"e":-2.0},{"p":"HSE","b":"v1","k":28,"e":-2.3},{"p":"HSE","b":"v1","k":36,"e":-2.4},{"p":"HSE","b":"v1","k":45,"e":-2.4},{"p":"HSE","b":"v1","k":54,"e":-2.38},{"p":"HSE","b":"v1","k":58,"e":-2.2},{"p":"HSE","b":"v1","k":62,"e":-1.4},{"p":"HSE","b":"v1","k":67,"e":-0.88},{"p":"HSE","b":"v1","k":72,"e":-0.79},{"p":"HSE","b":"v1","k":84,"e":-0.7},{"p":"HSE","b":"v1","k":97,"e":-0.45},{"p":"HSE","b":"v1","k":107,"e":-0.15},{"p":"HSE","b":"v1","k":118,"e":0},{"p":"HSE","b":"v1","k":130,"e":-0.3},{"p":"HSE","b":"v1","k":143,"e":-0.95},{"p":"HSE","b":"v1","k":155,"e":-1.75},{"p":"HSE","b":"v1","k":165,"e":-2.25},{"p":"HSE","b":"v1","k":180,"e":-2.4},
{"p":"HSE","b":"vA","k":0,"e":-3.1},{"p":"HSE","b":"vA","k":15,"e":-3.05},{"p":"HSE","b":"vA","k":30,"e":-2.7},{"p":"HSE","b":"vA","k":36,"e":-2.5},{"p":"HSE","b":"vA","k":45,"e":-2.42},{"p":"HSE","b":"vA","k":54,"e":-2.4},{"p":"HSE","b":"vA","k":58,"e":-2.25},{"p":"HSE","b":"vA","k":62,"e":-1.5},{"p":"HSE","b":"vA","k":67,"e":-0.95},{"p":"HSE","b":"vA","k":72,"e":-0.85},{"p":"HSE","b":"vA","k":85,"e":-0.77},{"p":"HSE","b":"vA","k":100,"e":-0.52},{"p":"HSE","b":"vA","k":110,"e":-0.22},{"p":"HSE","b":"vA","k":118,"e":0},{"p":"HSE","b":"vA","k":128,"e":-0.45},{"p":"HSE","b":"vA","k":138,"e":-1.2},{"p":"HSE","b":"vA","k":150,"e":-2.0},{"p":"HSE","b":"vA","k":165,"e":-2.6},{"p":"HSE","b":"vA","k":180,"e":-2.82},
{"p":"HSE","b":"B1","k":0,"e":-2.72},{"p":"HSE","b":"B1","k":18,"e":-2.75},{"p":"HSE","b":"B1","k":36,"e":-3.0},{"p":"HSE","b":"B1","k":54,"e":-3.3},{"p":"HSE","b":"B1","k":72,"e":-3.45},{"p":"HSE","b":"B1","k":88,"e":-3.1},{"p":"HSE","b":"B1","k":104,"e":-2.8},{"p":"HSE","b":"B1","k":118,"e":-2.7},{"p":"HSE","b":"B1","k":134,"e":-2.8},{"p":"HSE","b":"B1","k":150,"e":-3.1},{"p":"HSE","b":"B1","k":165,"e":-3.4},{"p":"HSE","b":"B1","k":180,"e":-3.5},
{"p":"HSE","b":"B2","k":0,"e":-2.75},{"p":"HSE","b":"B2","k":12,"e":-2.85},{"p":"HSE","b":"B2","k":24,"e":-3.2},{"p":"HSE","b":"B2","k":36,"e":-3.5},{"p":"HSE","b":"B2","k":54,"e":-3.6},{"p":"HSE","b":"B2","k":72,"e":-3.55},{"p":"HSE","b":"B2","k":90,"e":-3.25},{"p":"HSE","b":"B2","k":105,"e":-3.12},{"p":"HSE","b":"B2","k":118,"e":-3.1},{"p":"HSE","b":"B2","k":134,"e":-3.25},{"p":"HSE","b":"B2","k":150,"e":-3.6},{"p":"HSE","b":"B2","k":165,"e":-3.95},{"p":"HSE","b":"B2","k":180,"e":-4.1},
{"p":"HSE","b":"B3","k":0,"e":-3.1},{"p":"HSE","b":"B3","k":18,"e":-3.12},{"p":"HSE","b":"B3","k":36,"e":-3.2},{"p":"HSE","b":"B3","k":54,"e":-3.25},{"p":"HSE","b":"B3","k":72,"e":-3.4},{"p":"HSE","b":"B3","k":90,"e":-3.2},{"p":"HSE","b":"B3","k":105,"e":-3.12},{"p":"HSE","b":"B3","k":118,"e":-3.1},{"p":"HSE","b":"B3","k":134,"e":-3.2},{"p":"HSE","b":"B3","k":150,"e":-3.35},{"p":"HSE","b":"B3","k":165,"e":-3.5},{"p":"HSE","b":"B3","k":180,"e":-3.6},
{"p":"HSE","b":"B4","k":0,"e":-4.35},{"p":"HSE","b":"B4","k":18,"e":-4.25},{"p":"HSE","b":"B4","k":36,"e":-4.15},{"p":"HSE","b":"B4","k":45,"e":-4.0},{"p":"HSE","b":"B4","k":54,"e":-3.9},{"p":"HSE","b":"B4","k":72,"e":-3.6},{"p":"HSE","b":"B4","k":88,"e":-3.95},{"p":"HSE","b":"B4","k":104,"e":-4.25},{"p":"HSE","b":"B4","k":118,"e":-4.35},{"p":"HSE","b":"B4","k":134,"e":-4.25},{"p":"HSE","b":"B4","k":150,"e":-3.95},{"p":"HSE","b":"B4","k":165,"e":-3.6},{"p":"HSE","b":"B4","k":180,"e":-3.3},
{"p":"HSE","b":"B5","k":0,"e":-4.4},{"p":"HSE","b":"B5","k":18,"e":-4.3},{"p":"HSE","b":"B5","k":36,"e":-4.1},{"p":"HSE","b":"B5","k":54,"e":-4.0},{"p":"HSE","b":"B5","k":72,"e":-3.65},{"p":"HSE","b":"B5","k":88,"e":-4.0},{"p":"HSE","b":"B5","k":104,"e":-4.3},{"p":"HSE","b":"B5","k":118,"e":-4.37},{"p":"HSE","b":"B5","k":134,"e":-4.3},{"p":"HSE","b":"B5","k":150,"e":-4.15},{"p":"HSE","b":"B5","k":165,"e":-4.15},{"p":"HSE","b":"B5","k":180,"e":-4.2},
{"p":"HSE","b":"red","k":0,"e":0},{"p":"HSE","b":"red","k":7,"e":-0.73},{"p":"HSE","b":"red","k":17,"e":-1.67},{"p":"HSE","b":"red","k":27,"e":-2.4},{"p":"HSE","b":"red","k":36,"e":-2.74},{"p":"HSE","b":"red","k":47,"e":-3.14},{"p":"HSE","b":"red","k":54,"e":-3.25},{"p":"HSE","b":"red","k":72,"e":-3.28},{"p":"HSE","b":"red","k":80,"e":-2.95},{"p":"HSE","b":"red","k":87,"e":-2.47},{"p":"HSE","b":"red","k":94,"e":-1.85},{"p":"HSE","b":"red","k":100,"e":-1.26},{"p":"HSE","b":"red","k":106,"e":-0.75},{"p":"HSE","b":"red","k":112,"e":-0.32},{"p":"HSE","b":"red","k":118,"e":0},{"p":"HSE","b":"red","k":122,"e":-0.45},{"p":"HSE","b":"red","k":127,"e":-0.99},{"p":"HSE","b":"red","k":140,"e":-2.2},{"p":"HSE","b":"red","k":154,"e":-3.01},{"p":"HSE","b":"red","k":165,"e":-3.25},{"p":"HSE","b":"red","k":172,"e":-3.05},{"p":"HSE","b":"red","k":180,"e":-2.81}
]
},
"spacing":19,
"bounds":"flush",
"hconcat":[
{"width":180,"height":248,"title":"PBE","resolve":{"axis":{"x":"independent","y":"independent"}},"layer":[
{"data":{"name":"kp"},"mark":{"type":"rule","color":"black","strokeWidth":1.3},"encoding":{"x":{"field":"k","type":"quantitative","scale":{"domain":[0,180]},"axis":{"orient":"bottom","values":[36,54,72,165,180],"labelExpr":"datum.value==36?'X':datum.value==54?'W':datum.value==72?'L':datum.value==165?'K':'M'","ticks":false,"domain":false,"grid":false,"labelFlush":false,"labelOverlap":false,"labelFontSize":14,"labelFont":"Liberation Sans","labelColor":"black","labelPadding":3,"title":null}}}},
{"data":{"name":"tmaj"},"mark":{"type":"rule","color":"black","strokeWidth":1.3},"encoding":{"x":{"datum":0,"type":"quantitative","scale":{"domain":[0,180]},"axis":null},"x2":{"datum":15},"y":{"field":"e","type":"quantitative","scale":{"domain":[-5,5],"nice":false,"zero":false},"axis":null}}},
{"data":{"name":"tmaj"},"mark":{"type":"rule","color":"black","strokeWidth":1.3},"encoding":{"x":{"datum":165,"type":"quantitative","scale":{"domain":[0,180]},"axis":null},"x2":{"datum":180},"y":{"field":"e","type":"quantitative","scale":{"domain":[-5,5],"nice":false,"zero":false},"axis":null}}},
{"data":{"name":"tmin"},"mark":{"type":"rule","color":"black","strokeWidth":1.3},"encoding":{"x":{"datum":0,"type":"quantitative","scale":{"domain":[0,180]},"axis":null},"x2":{"datum":7},"y":{"field":"e","type":"quantitative","scale":{"domain":[-5,5],"nice":false,"zero":false},"axis":null}}},
{"data":{"name":"tmin"},"mark":{"type":"rule","color":"black","strokeWidth":1.3},"encoding":{"x":{"datum":173,"type":"quantitative","scale":{"domain":[0,180]},"axis":null},"x2":{"datum":180},"y":{"field":"e","type":"quantitative","scale":{"domain":[-5,5],"nice":false,"zero":false},"axis":null}}},
{"data":{"name":"zero"},"mark":{"type":"rule","color":"#404040","strokeWidth":1.4,"strokeDash":[7,4]},"encoding":{"y":{"field":"e","type":"quantitative","scale":{"domain":[-5,5],"nice":false,"zero":false},"axis":null}}},
{"data":{"name":"bands"},"transform":[{"filter":"datum.p==='PBE' && datum.b!=='red'"}],"mark":{"type":"line","color":"#0000ff","strokeWidth":1.8,"clip":true},"encoding":{"x":{"field":"k","type":"quantitative","scale":{"domain":[0,180]},"axis":null},"y":{"field":"e","type":"quantitative","scale":{"domain":[-5,5],"nice":false,"zero":false},"axis":{"orient":"left","values":[-5,-4,-3,-2,-1,0,1,2,3,4,5],"labelExpr":"'' + datum.value","labelFlush":false,"labelOverlap":false,"labelFontSize":13,"labelColor":"black","labelPadding":5,"title":"E-EF (eV)","titleFontSize":13,"titleFontWeight":"normal","titleColor":"black","titlePadding":11,"ticks":false,"domain":false,"grid":false}},"detail":{"field":"b"}}},
{"data":{"name":"fat"},"transform":[{"filter":"datum.p==='PBE'"}],"mark":{"type":"trail","opacity":0.6,"clip":true},"encoding":{"x":{"field":"k","type":"quantitative","scale":{"domain":[0,180]},"axis":null},"y":{"field":"e","type":"quantitative","scale":{"domain":[-5,5],"nice":false,"zero":false},"axis":null},"size":{"field":"w","type":"quantitative","scale":{"domain":[0,1],"range":[0,21]},"legend":null},"color":{"field":"t","type":"nominal","scale":{"domain":["p","s"],"range":["#0000ff","#ff0000"]},"legend":null},"detail":{"field":"f"}}},
{"data":{"name":"bands"},"transform":[{"filter":"datum.p==='PBE' && datum.b==='red'"}],"mark":{"type":"line","color":"#ff0000","strokeWidth":2.2,"strokeDash":[8,3,3,3],"clip":true},"encoding":{"x":{"field":"k","type":"quantitative","scale":{"domain":[0,180]},"axis":{"orient":"bottom","values":[0,118],"labelExpr":"'Γ'","ticks":false,"domain":false,"grid":false,"labelFlush":false,"labelOverlap":false,"labelFontSize":15,"labelFont":"Liberation Serif","labelColor":"black","labelPadding":3,"title":null}},"y":{"field":"e","type":"quantitative","scale":{"domain":[-5,5],"nice":false,"zero":false},"axis":null}}}
]},
{"width":180,"height":248,"title":"AM05","resolve":{"axis":{"x":"independent","y":"independent"}},"layer":[
{"data":{"name":"kp"},"mark":{"type":"rule","color":"black","strokeWidth":1.3},"encoding":{"x":{"field":"k","type":"quantitative","scale":{"domain":[0,180]},"axis":{"orient":"bottom","values":[36,54,72,165,180],"labelExpr":"datum.value==36?'X':datum.value==54?'W':datum.value==72?'L':datum.value==165?'K':'M'","ticks":false,"domain":false,"grid":false,"labelFlush":false,"labelOverlap":false,"labelFontSize":14,"labelFont":"Liberation Sans","labelColor":"black","labelPadding":3,"title":null}}}},
{"data":{"name":"tmaj"},"mark":{"type":"rule","color":"black","strokeWidth":1.3},"encoding":{"x":{"datum":0,"type":"quantitative","scale":{"domain":[0,180]},"axis":null},"x2":{"datum":15},"y":{"field":"e","type":"quantitative","scale":{"domain":[-5,5],"nice":false,"zero":false},"axis":null}}},
{"data":{"name":"tmaj"},"mark":{"type":"rule","color":"black","strokeWidth":1.3},"encoding":{"x":{"datum":165,"type":"quantitative","scale":{"domain":[0,180]},"axis":null},"x2":{"datum":180},"y":{"field":"e","type":"quantitative","scale":{"domain":[-5,5],"nice":false,"zero":false},"axis":null}}},
{"data":{"name":"tmin"},"mark":{"type":"rule","color":"black","strokeWidth":1.3},"encoding":{"x":{"datum":0,"type":"quantitative","scale":{"domain":[0,180]},"axis":null},"x2":{"datum":7},"y":{"field":"e","type":"quantitative","scale":{"domain":[-5,5],"nice":false,"zero":false},"axis":null}}},
{"data":{"name":"tmin"},"mark":{"type":"rule","color":"black","strokeWidth":1.3},"encoding":{"x":{"datum":173,"type":"quantitative","scale":{"domain":[0,180]},"axis":null},"x2":{"datum":180},"y":{"field":"e","type":"quantitative","scale":{"domain":[-5,5],"nice":false,"zero":false},"axis":null}}},
{"data":{"name":"zero"},"mark":{"type":"rule","color":"#404040","strokeWidth":1.4,"strokeDash":[7,4]},"encoding":{"y":{"field":"e","type":"quantitative","scale":{"domain":[-5,5],"nice":false,"zero":false},"axis":null}}},
{"data":{"name":"bands"},"transform":[{"filter":"datum.p==='AM05' && datum.b!=='red'"}],"mark":{"type":"line","color":"#0000ff","strokeWidth":1.8,"clip":true},"encoding":{"x":{"field":"k","type":"quantitative","scale":{"domain":[0,180]},"axis":null},"y":{"field":"e","type":"quantitative","scale":{"domain":[-5,5],"nice":false,"zero":false},"axis":null},"detail":{"field":"b"}}},
{"data":{"name":"fat"},"transform":[{"filter":"datum.p==='AM05'"}],"mark":{"type":"trail","opacity":0.6,"clip":true},"encoding":{"x":{"field":"k","type":"quantitative","scale":{"domain":[0,180]},"axis":null},"y":{"field":"e","type":"quantitative","scale":{"domain":[-5,5],"nice":false,"zero":false},"axis":null},"size":{"field":"w","type":"quantitative","scale":{"domain":[0,1],"range":[0,21]},"legend":null},"color":{"field":"t","type":"nominal","scale":{"domain":["p","s"],"range":["#0000ff","#ff0000"]},"legend":null},"detail":{"field":"f"}}},
{"data":{"name":"bands"},"transform":[{"filter":"datum.p==='AM05' && datum.b==='red'"}],"mark":{"type":"line","color":"#ff0000","strokeWidth":2.2,"strokeDash":[8,3,3,3],"clip":true},"encoding":{"x":{"field":"k","type":"quantitative","scale":{"domain":[0,180]},"axis":{"orient":"bottom","values":[0,118],"labelExpr":"'Γ'","ticks":false,"domain":false,"grid":false,"labelFlush":false,"labelOverlap":false,"labelFontSize":15,"labelFont":"Liberation Serif","labelColor":"black","labelPadding":3,"title":null}},"y":{"field":"e","type":"quantitative","scale":{"domain":[-5,5],"nice":false,"zero":false},"axis":null}}}
]},
{"width":180,"height":248,"title":"PBE0","resolve":{"axis":{"x":"independent","y":"independent"}},"layer":[
{"data":{"name":"kp"},"mark":{"type":"rule","color":"black","strokeWidth":1.3},"encoding":{"x":{"field":"k","type":"quantitative","scale":{"domain":[0,180]},"axis":{"orient":"bottom","values":[36,54,72,165,180],"labelExpr":"datum.value==36?'X':datum.value==54?'W':datum.value==72?'L':datum.value==165?'K':'M'","ticks":false,"domain":false,"grid":false,"labelFlush":false,"labelOverlap":false,"labelFontSize":14,"labelFont":"Liberation Sans","labelColor":"black","labelPadding":3,"title":null}}}},
{"data":{"name":"tmaj"},"mark":{"type":"rule","color":"black","strokeWidth":1.3},"encoding":{"x":{"datum":0,"type":"quantitative","scale":{"domain":[0,180]},"axis":null},"x2":{"datum":15},"y":{"field":"e","type":"quantitative","scale":{"domain":[-5,5],"nice":false,"zero":false},"axis":null}}},
{"data":{"name":"tmaj"},"mark":{"type":"rule","color":"black","strokeWidth":1.3},"encoding":{"x":{"datum":165,"type":"quantitative","scale":{"domain":[0,180]},"axis":null},"x2":{"datum":180},"y":{"field":"e","type":"quantitative","scale":{"domain":[-5,5],"nice":false,"zero":false},"axis":null}}},
{"data":{"name":"tmin"},"mark":{"type":"rule","color":"black","strokeWidth":1.3},"encoding":{"x":{"datum":0,"type":"quantitative","scale":{"domain":[0,180]},"axis":null},"x2":{"datum":7},"y":{"field":"e","type":"quantitative","scale":{"domain":[-5,5],"nice":false,"zero":false},"axis":null}}},
{"data":{"name":"tmin"},"mark":{"type":"rule","color":"black","strokeWidth":1.3},"encoding":{"x":{"datum":173,"type":"quantitative","scale":{"domain":[0,180]},"axis":null},"x2":{"datum":180},"y":{"field":"e","type":"quantitative","scale":{"domain":[-5,5],"nice":false,"zero":false},"axis":null}}},
{"data":{"name":"zero"},"mark":{"type":"rule","color":"#404040","strokeWidth":1.4,"strokeDash":[7,4]},"encoding":{"y":{"field":"e","type":"quantitative","scale":{"domain":[-5,5],"nice":false,"zero":false},"axis":null}}},
{"data":{"name":"bands"},"transform":[{"filter":"datum.p==='PBE0' && datum.b!=='red'"}],"mark":{"type":"line","color":"#0000ff","strokeWidth":1.8,"clip":true},"encoding":{"x":{"field":"k","type":"quantitative","scale":{"domain":[0,180]},"axis":null},"y":{"field":"e","type":"quantitative","scale":{"domain":[-5,5],"nice":false,"zero":false},"axis":null},"detail":{"field":"b"}}},
{"data":{"name":"fat"},"transform":[{"filter":"datum.p==='PBE0'"}],"mark":{"type":"trail","opacity":0.6,"clip":true},"encoding":{"x":{"field":"k","type":"quantitative","scale":{"domain":[0,180]},"axis":null},"y":{"field":"e","type":"quantitative","scale":{"domain":[-5,5],"nice":false,"zero":false},"axis":null},"size":{"field":"w","type":"quantitative","scale":{"domain":[0,1],"range":[0,21]},"legend":null},"color":{"field":"t","type":"nominal","scale":{"domain":["p","s"],"range":["#0000ff","#ff0000"]},"legend":null},"detail":{"field":"f"}}},
{"data":{"name":"bands"},"transform":[{"filter":"datum.p==='PBE0' && datum.b==='red'"}],"mark":{"type":"line","color":"#ff0000","strokeWidth":2.2,"strokeDash":[8,3,3,3],"clip":true},"encoding":{"x":{"field":"k","type":"quantitative","scale":{"domain":[0,180]},"axis":{"orient":"bottom","values":[0,118],"labelExpr":"'Γ'","ticks":false,"domain":false,"grid":false,"labelFlush":false,"labelOverlap":false,"labelFontSize":15,"labelFont":"Liberation Serif","labelColor":"black","labelPadding":3,"title":null}},"y":{"field":"e","type":"quantitative","scale":{"domain":[-5,5],"nice":false,"zero":false},"axis":null}}}
]},
{"width":180,"height":248,"title":"HSE","resolve":{"axis":{"x":"independent","y":"independent"}},"layer":[
{"data":{"name":"kp"},"mark":{"type":"rule","color":"black","strokeWidth":1.3},"encoding":{"x":{"field":"k","type":"quantitative","scale":{"domain":[0,180]},"axis":{"orient":"bottom","values":[36,54,72,165,180],"labelExpr":"datum.value==36?'X':datum.value==54?'W':datum.value==72?'L':datum.value==165?'K':'M'","ticks":false,"domain":false,"grid":false,"labelFlush":false,"labelOverlap":false,"labelFontSize":14,"labelFont":"Liberation Sans","labelColor":"black","labelPadding":3,"title":null}}}},
{"data":{"name":"tmaj"},"mark":{"type":"rule","color":"black","strokeWidth":1.3},"encoding":{"x":{"datum":0,"type":"quantitative","scale":{"domain":[0,180]},"axis":null},"x2":{"datum":15},"y":{"field":"e","type":"quantitative","scale":{"domain":[-5,5],"nice":false,"zero":false},"axis":null}}},
{"data":{"name":"tmaj"},"mark":{"type":"rule","color":"black","strokeWidth":1.3},"encoding":{"x":{"datum":165,"type":"quantitative","scale":{"domain":[0,180]},"axis":null},"x2":{"datum":180},"y":{"field":"e","type":"quantitative","scale":{"domain":[-5,5],"nice":false,"zero":false},"axis":null}}},
{"data":{"name":"tmin"},"mark":{"type":"rule","color":"black","strokeWidth":1.3},"encoding":{"x":{"datum":0,"type":"quantitative","scale":{"domain":[0,180]},"axis":null},"x2":{"datum":7},"y":{"field":"e","type":"quantitative","scale":{"domain":[-5,5],"nice":false,"zero":false},"axis":null}}},
{"data":{"name":"tmin"},"mark":{"type":"rule","color":"black","strokeWidth":1.3},"encoding":{"x":{"datum":173,"type":"quantitative","scale":{"domain":[0,180]},"axis":null},"x2":{"datum":180},"y":{"field":"e","type":"quantitative","scale":{"domain":[-5,5],"nice":false,"zero":false},"axis":null}}},
{"data":{"name":"zero"},"mark":{"type":"rule","color":"#404040","strokeWidth":1.4,"strokeDash":[7,4]},"encoding":{"y":{"field":"e","type":"quantitative","scale":{"domain":[-5,5],"nice":false,"zero":false},"axis":{"orient":"right","values":[-5,-4,-3,-2,-1,0,1,2,3,4,5],"labelExpr":"'' + datum.value","labelFlush":false,"labelOverlap":false,"labelFontSize":13,"labelColor":"black","labelPadding":5,"title":"E-EF (eV)","titleFontSize":13,"titleFontWeight":"normal","titleColor":"black","titlePadding":11,"titleAngle":-90,"titleBaseline":"top","ticks":false,"domain":false,"grid":false}}}},
{"data":{"name":"bands"},"transform":[{"filter":"datum.p==='HSE' && datum.b!=='red'"}],"mark":{"type":"line","color":"#0000ff","strokeWidth":1.8,"clip":true},"encoding":{"x":{"field":"k","type":"quantitative","scale":{"domain":[0,180]},"axis":null},"y":{"field":"e","type":"quantitative","scale":{"domain":[-5,5],"nice":false,"zero":false},"axis":null},"detail":{"field":"b"}}},
{"data":{"name":"fat"},"transform":[{"filter":"datum.p==='HSE'"}],"mark":{"type":"trail","opacity":0.6,"clip":true},"encoding":{"x":{"field":"k","type":"quantitative","scale":{"domain":[0,180]},"axis":null},"y":{"field":"e","type":"quantitative","scale":{"domain":[-5,5],"nice":false,"zero":false},"axis":null},"size":{"field":"w","type":"quantitative","scale":{"domain":[0,1],"range":[0,21]},"legend":null},"color":{"field":"t","type":"nominal","scale":{"domain":["p","s"],"range":["#0000ff","#ff0000"]},"legend":null},"detail":{"field":"f"}}},
{"data":{"name":"bands"},"transform":[{"filter":"datum.p==='HSE' && datum.b==='red'"}],"mark":{"type":"line","color":"#ff0000","strokeWidth":2.2,"strokeDash":[8,3,3,3],"clip":true},"encoding":{"x":{"field":"k","type":"quantitative","scale":{"domain":[0,180]},"axis":{"orient":"bottom","values":[0,118],"labelExpr":"'Γ'","ticks":false,"domain":false,"grid":false,"labelFlush":false,"labelOverlap":false,"labelFontSize":15,"labelFont":"Liberation Serif","labelColor":"black","labelPadding":3,"title":null}},"y":{"field":"e","type":"quantitative","scale":{"domain":[-5,5],"nice":false,"zero":false},"axis":null}}}
]}
]
}
